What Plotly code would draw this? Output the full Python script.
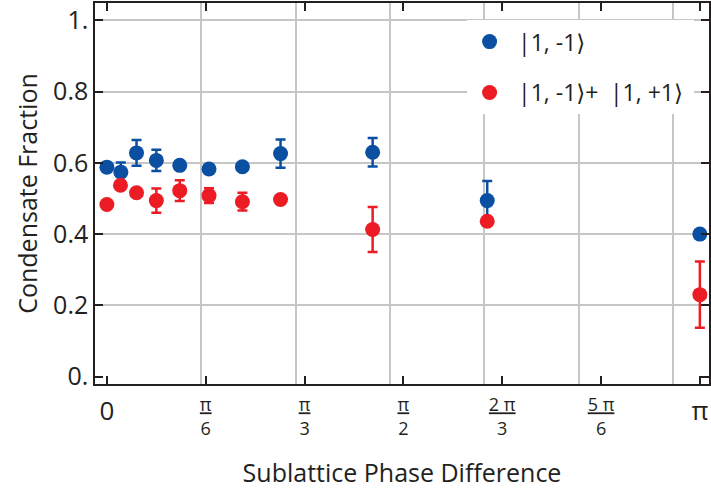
import math
import plotly.graph_objects as go

# ---- data ----
phase_a = [0.0, 0.074, 0.157, 0.262, 0.386, 0.541, 0.718, 0.920, 1.408, 2.015, math.pi]
frac_a = [0.588, 0.574, 0.628, 0.607, 0.593, 0.583, 0.589, 0.626, 0.630, 0.494, 0.400]
err_a = [0.008, 0.027, 0.036, 0.030, 0.010, 0.010, 0.008, 0.040, 0.040, 0.055, 0.010]

phase_b = [0.0, 0.072, 0.157, 0.262, 0.386, 0.541, 0.718, 0.920, 1.408, 2.015, math.pi]
frac_b = [0.483, 0.537, 0.516, 0.494, 0.522, 0.508, 0.491, 0.497, 0.413, 0.436, 0.230]
err_b = [0.008, 0.010, 0.010, 0.034, 0.029, 0.021, 0.025, 0.008, 0.063, 0.008, 0.093]

name_a = "|1, -1⟩"
name_b = "|1, -1⟩+\u2002|1, +1⟩"

x_tickvals = [0, math.pi / 6, math.pi / 3, math.pi / 2, 2 * math.pi / 3, 5 * math.pi / 6, math.pi]
big = '<span style="font-size:26px;baseline-shift:-9px">'
x_ticktext = [
    big + "0</span>",
    "<u>π</u><br>6",
    "<u>π</u><br>3",
    "<u>π</u><br>2",
    "<u>2 π</u><br>3",
    "<u>5 π</u><br>6",
    big + "π</span>",
]
x_gridvals = [0.5, 1.0, 1.5, 2.0, 2.5, 3.0]
y_tickvals = [0, 0.2, 0.4, 0.6, 0.8, 1.0]
y_ticktext = ["0.", "0.2", "0.4", "0.6", "0.8", "1."]
y_gridvals = [0.2, 0.4, 0.6, 0.8, 1.0]

BLUE = "#0b4fa3"
RED = "#ec1c24"
INK = "#231f20"
GRID = "#c6c6c6"
FONT = "Open Sans, Noto Sans, DejaVu Sans"

xr = [-0.063, 3.19]
yr = [-0.021, 1.049]

fig = go.Figure()
# invisible traces to hold the grid-only overlay axes
fig.add_trace(go.Scatter(x=[None], y=[None], xaxis="x2", yaxis="y", showlegend=False, hoverinfo="skip"))
fig.add_trace(go.Scatter(x=[None], y=[None], xaxis="x", yaxis="y2", showlegend=False, hoverinfo="skip"))

fig.add_trace(go.Scatter(
    x=phase_a, y=frac_a, mode="markers", name="\u00a0" + name_a + "\u00a0" * 8, legendgroup="a",
    marker=dict(color=BLUE, size=15),
    error_y=dict(type="data", array=err_a, color=BLUE, thickness=2.5, width=5),
))
fig.add_trace(go.Scatter(
    x=phase_b, y=frac_b, mode="markers", name="\u00a0" + name_b + "\u00a0", legendgroup="b",
    marker=dict(color=RED, size=15),
    error_y=dict(type="data", array=err_b, color=RED, thickness=2.5, width=5),
))

axis_common = dict(showline=True, linecolor=INK, linewidth=1.5, mirror="ticks",
                   ticks="inside", ticklen=8, tickwidth=1.5, tickcolor=INK,
                   zeroline=False, showgrid=False, fixedrange=True, automargin=False)

fig.update_layout(
    width=711, height=491,
    margin=dict(l=95, r=2, t=3, b=107, autoexpand=False),
    paper_bgcolor="white", plot_bgcolor="white",
    font=dict(family=FONT, color=INK, size=21),
    xaxis=dict(range=xr, tickvals=x_tickvals, ticktext=x_ticktext,
               tickfont=dict(size=18), ticklabelstandoff=4,
               title=dict(text="Sublattice Phase Difference", font=dict(size=25), standoff=26),
               **axis_common),
    yaxis=dict(range=yr, tickvals=y_tickvals, ticktext=y_ticktext,
               tickfont=dict(size=25),
               title=dict(text="Condensate Fraction", font=dict(size=25), standoff=8),
               **axis_common),
    xaxis2=dict(range=xr, overlaying="x", anchor="y", tickvals=x_gridvals,
                showgrid=True, gridcolor=GRID, gridwidth=1.5, showticklabels=False,
                ticks="", showline=False, zeroline=False, fixedrange=True, automargin=False),
    yaxis2=dict(range=yr, overlaying="y", anchor="x", tickvals=y_gridvals,
                showgrid=True, gridcolor=GRID, gridwidth=1.5, showticklabels=False,
                ticks="", showline=False, zeroline=False, fixedrange=True, automargin=False),
    legend=dict(x=0.606, y=0.955, xanchor="left", yanchor="top",
                bgcolor="white", borderwidth=0, font=dict(size=23, color=INK),
                traceorder="grouped", tracegroupgap=18, itemwidth=35),
    showlegend=True,
)

fig.write_html("out.html", config={"displayModeBar": False},
               post_script="document.body.style.margin='0px';")
